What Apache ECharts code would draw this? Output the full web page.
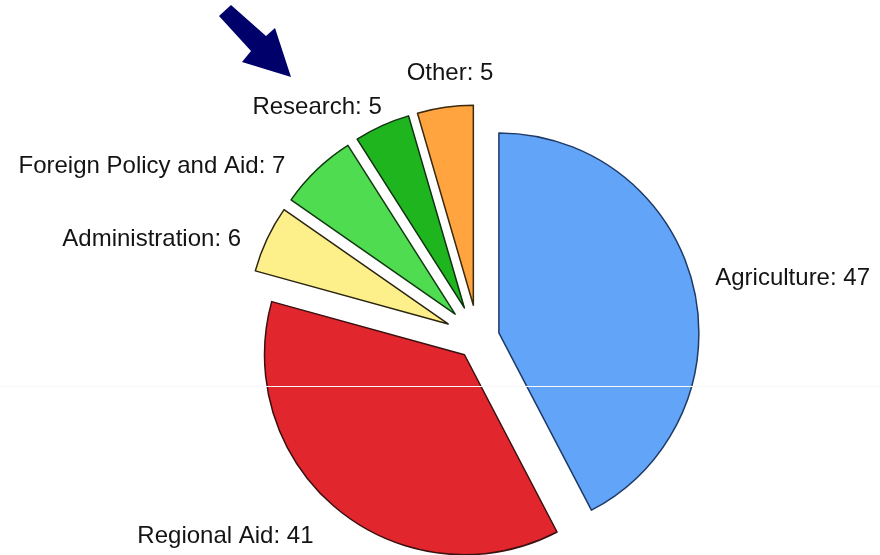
<!DOCTYPE html>
<html><head><meta charset="utf-8">
<script src="https://cdn.jsdelivr.net/npm/echarts@6/dist/echarts.min.js"></script>
<style>html,body{margin:0;padding:0;background:#fff}#c{width:880px;height:555px}</style>
</head><body><div id="c"></div>
<script>
const categories = ['Agriculture', 'Regional Aid', 'Administration', 'Foreign Policy and Aid', 'Research', 'Other'];
const values = [47, 41, 6, 7, 5, 5];
const colors = ['#62a4f8', '#e1262d', '#fdf08b', '#50dc50', '#1fb51f', '#ffa43f'];
const borders = ['#1e3a66', '#3a1010', '#2a2410', '#103a10', '#0f300f', '#3a2a10'];
// which explode distance each slice uses (big slices pulled out less than small ones)
const explodeGroup = [0, 0, 1, 1, 1, 1];
const explodeOffsets = [21.5, 33];
// invisible label-guide lengths used only to place the outside labels
const guideLen = [30, 34, 0, 5, 20, 34];
const guideLen2 = [-7, 4, 26, 28, -8, -53];

function makeSeries(g) {
  return {
    type: 'pie',
    center: [478, 338],
    radius: 200,
    startAngle: 90,
    clockwise: true,
    selectedMode: 'multiple',
    selectedOffset: explodeOffsets[g],
    avoidLabelOverlap: false,
    silent: true,
    label: {
      show: true,
      position: 'outside',
      formatter: '{b}: {c}',
      fontFamily: 'Liberation Sans, Arial, sans-serif',
      fontSize: 24,
      color: '#141414',
      distanceToLabelLine: 0,
      bleedMargin: 0
    },
    labelLine: {show: false},
    emphasis: {disabled: true},
    data: categories.map((n, i) => {
      const on = explodeGroup[i] === g;
      const st = on ? {color: colors[i], borderColor: borders[i], borderWidth: 1.5}
                    : {color: 'rgba(0,0,0,0)', borderWidth: 0};
      return {
        name: n,
        value: values[i],
        selected: true,
        itemStyle: st,
        select: {itemStyle: st},
        label: {show: on},
        labelLine: {length: guideLen[i], length2: guideLen2[i]}
      };
    })
  };
}

const chart = echarts.init(document.getElementById('c'), null, {renderer: 'canvas'});
chart.setOption({
  backgroundColor: '#ffffff',
  animation: false,
  series: [makeSeries(0), makeSeries(1)],
  graphic: [
    {
      type: 'polygon',
      z: 100,
      shape: {points: [[231, 5], [266, 36], [275, 28], [291, 77], [242, 62], [251, 51], [219, 16]]},
      style: {fill: '#00006b'}
    },
    {
      type: 'line',
      z: 100,
      shape: {x1: 0, y1: 386.5, x2: 880, y2: 386.5},
      style: {stroke: '#f8f8f8', lineWidth: 1}
    }
  ]
});
</script>
</body></html>
